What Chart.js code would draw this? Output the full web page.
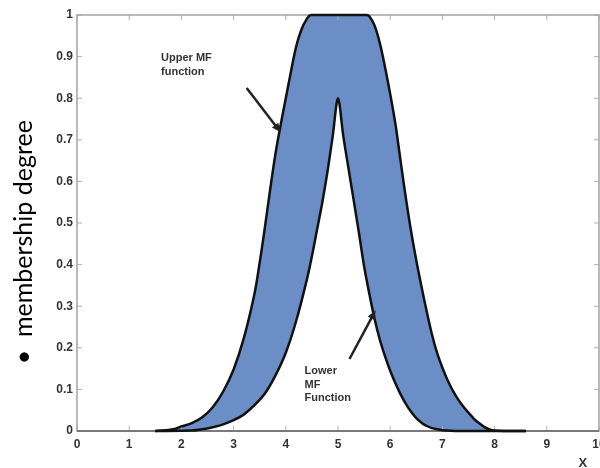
<!DOCTYPE html>
<html><head><meta charset="utf-8">
<script src="https://cdn.jsdelivr.net/npm/chart.js@4.4.1/dist/chart.umd.min.js"></script>
<style>html,body{margin:0;padding:0;background:#fff}#wrap{width:600px;height:468px}</style>
</head><body><div id="wrap"><canvas id="c" width="600" height="468"></canvas></div>
<script>
// Upper membership function (x, degree)
const upperX = [1.5, 1.85, 2.0, 2.2, 2.4, 2.6, 2.8, 3.0, 3.2, 3.4, 3.5, 3.6, 3.7, 3.8, 3.9, 4.0, 4.1, 4.2, 4.3, 4.4, 4.48,
                5.55, 5.6, 5.7, 5.8, 5.9, 6.0, 6.1, 6.2, 6.3, 6.4, 6.5, 6.6, 6.7, 6.8, 6.9, 7.0, 7.1, 7.2, 7.3, 7.4,
                7.5, 7.6, 7.7, 7.8, 7.9, 8.0, 8.2, 8.6];
const upperY = [0, 0.004, 0.011, 0.019, 0.033, 0.057, 0.095, 0.148, 0.225, 0.33, 0.405, 0.49, 0.58, 0.665, 0.735, 0.80, 0.865, 0.925, 0.965, 0.99, 1.0,
                1.0, 0.997, 0.975, 0.933, 0.875, 0.81, 0.738, 0.648, 0.56, 0.48, 0.41, 0.347, 0.287, 0.232, 0.187, 0.152, 0.122, 0.097, 0.076, 0.059,
                0.044, 0.03, 0.019, 0.01, 0.004, 0.001, 0, 0];
// Lower membership function (x, degree)
const lowerX = [1.5, 2.2, 2.4, 2.6, 2.8, 3.0, 3.2, 3.4, 3.6, 3.8, 4.0, 4.2, 4.4, 4.5, 4.6, 4.7, 4.8, 4.9, 5.0,
                5.1, 5.2, 5.3, 5.4, 5.5, 5.6, 5.7, 5.8, 5.9, 6.0, 6.1, 6.2, 6.3, 6.4, 6.5, 6.6, 6.7, 6.8, 6.9, 7.0, 7.3, 8.6];
const lowerY = [0, 0.001, 0.004, 0.009, 0.016, 0.026, 0.04, 0.062, 0.09, 0.133, 0.188, 0.265, 0.362, 0.42, 0.485, 0.55, 0.625, 0.71, 0.80,
                0.71, 0.632, 0.555, 0.477, 0.396, 0.33, 0.27, 0.22, 0.18, 0.145, 0.115, 0.088, 0.065, 0.046, 0.031, 0.02, 0.012, 0.007, 0.004, 0.002, 0, 0];
const xTicks = [0, 1, 2, 3, 4, 5, 6, 7, 8, 9, 10];
const xTickLabels = ['0', '1', '2', '3', '4', '5', '6', '7', '8', '9', '10'];
const yTicks = [0, 0.1, 0.2, 0.3, 0.4, 0.5, 0.6, 0.7, 0.8, 0.9, 1];
const yTickLabels = ['0', '0.1', '0.2', '0.3', '0.4', '0.5', '0.6', '0.7', '0.8', '0.9', '1'];

const toPts = (xs, ys) => xs.map((v, i) => ({x: v, y: ys[i]}));

const decor = {
  id: 'decor',
  beforeDatasetsDraw(chart) {
    const {ctx, chartArea: a, scales: {x, y}} = chart;
    ctx.save();
    const ln = (x1, y1, x2, y2) => { ctx.beginPath(); ctx.moveTo(x1, y1); ctx.lineTo(x2, y2); ctx.stroke(); };
    ctx.strokeStyle = '#b0b0b0'; ctx.lineWidth = 1;
    x.ticks.forEach((t, i) => { const px = x.getPixelForTick(i); ln(px, a.bottom, px, a.bottom - 5); ln(px, a.top, px, a.top + 5); });
    y.ticks.forEach((t, i) => { const py = y.getPixelForTick(i); ln(a.left, py, a.left + 5, py); ln(a.right, py, a.right - 5, py); });
    ctx.strokeStyle = '#a4a4a4'; ctx.lineWidth = 1.5;
    ctx.strokeRect(a.left, a.top, a.right - a.left, a.bottom - a.top);
    ctx.strokeStyle = '#7a7a7a'; ctx.lineWidth = 2;
    ln(a.left, a.bottom, a.right, a.bottom);
    ctx.restore();
  },
  afterDatasetsDraw(chart, args, opts) {
    const {ctx, scales: {x, y}} = chart;
    ctx.save();
    ctx.fillStyle = '#333';
    ctx.font = 'bold 11px "Liberation Sans", Arial, sans-serif';
    ctx.textBaseline = 'alphabetic';
    ctx.textAlign = 'left';
    opts.notes.forEach(n => {
      const px = x.getPixelForValue(n.x), py = y.getPixelForValue(n.y);
      n.lines.forEach((t, i) => ctx.fillText(t, px, py + i * 13.5));
    });
    ctx.strokeStyle = '#222'; ctx.fillStyle = '#222'; ctx.lineWidth = 2.5;
    opts.arrows.forEach(ar => {
      const x1 = x.getPixelForValue(ar.from[0]), y1 = y.getPixelForValue(ar.from[1]);
      const x2 = x.getPixelForValue(ar.to[0]), y2 = y.getPixelForValue(ar.to[1]);
      const ang = Math.atan2(y2 - y1, x2 - x1), L = 9, W = 4;
      ctx.beginPath(); ctx.moveTo(x1, y1); ctx.lineTo(x2 - L * 0.7 * Math.cos(ang), y2 - L * 0.7 * Math.sin(ang)); ctx.stroke();
      ctx.beginPath();
      ctx.moveTo(x2, y2);
      ctx.lineTo(x2 - L * Math.cos(ang) + W * Math.sin(ang), y2 - L * Math.sin(ang) - W * Math.cos(ang));
      ctx.lineTo(x2 - L * Math.cos(ang) - W * Math.sin(ang), y2 - L * Math.sin(ang) + W * Math.cos(ang));
      ctx.closePath(); ctx.fill();
    });
    ctx.fillStyle = '#333';
    ctx.font = 'bold 13px "Liberation Sans", Arial, sans-serif';
    ctx.textAlign = 'center';
    ctx.fillText(opts.xLabel.text, x.getPixelForValue(opts.xLabel.x), chart.height - 1);
    ctx.restore();
  }
};

new Chart(document.getElementById('c'), {
  type: 'line',
  data: {
    datasets: [
      { label: 'Upper MF', data: toPts(upperX, upperY), borderColor: '#111', borderWidth: 2.5,
        backgroundColor: '#6b8ec6', fill: '+1', pointRadius: 0, tension: 0.35, clip: 6 },
      { label: 'Lower MF', data: toPts(lowerX, lowerY), borderColor: '#111', borderWidth: 2.5,
        fill: false, pointRadius: 0, tension: 0.3, clip: 6 }
    ]
  },
  options: {
    responsive: false,
    animation: false,
    layout: { padding: { top: 15, right: 1, left: 0, bottom: 0 } },
    plugins: {
      legend: { display: false },
      tooltip: { enabled: false },
      filler: { drawTime: 'beforeDatasetsDraw' },
      decor: {
        notes: [
          { lines: ['Upper MF', 'function'], x: 1.61, y: 0.889 },
          { lines: ['Lower', 'MF', 'Function'], x: 4.36, y: 0.137 }
        ],
        arrows: [
          { from: [3.25, 0.8245], to: [3.9, 0.718] },
          { from: [5.22, 0.173], to: [5.72, 0.29] }
        ],
        xLabel: { text: 'X', x: 9.69 }
      }
    },
    scales: {
      x: {
        type: 'linear', min: 0, max: 10,
        afterBuildTicks: s => { s.ticks = xTicks.map(v => ({value: v})); },
        afterFit: s => { s.height = 37; s.paddingLeft = 0; s.paddingRight = 0; },
        grid: { display: false, drawTicks: false },
        border: { display: false },
        ticks: { padding: 6, maxRotation: 0, autoSkip: false, color: '#333',
                 font: { family: '"Liberation Sans", Arial, sans-serif', size: 12, weight: 'bold' },
                 callback: (v, i) => xTickLabels[i] }
      },
      y: {
        type: 'linear', min: 0, max: 1,
        afterBuildTicks: s => { s.ticks = yTicks.map(v => ({value: v})); },
        afterFit: s => { s.width = 77; s.paddingTop = 0; s.paddingBottom = 0; },
        grid: { display: false, drawTicks: false },
        border: { display: false },
        ticks: { padding: 4, autoSkip: false, color: '#333',
                 font: { family: '"Liberation Sans", Arial, sans-serif', size: 12, weight: 'bold' },
                 callback: (v, i) => yTickLabels[i] },
        title: { display: true, text: '•  membership degree      ', color: '#000',
                 padding: { top: 9, bottom: 0 },
                 font: { family: 'Lato, "Open Sans", sans-serif', size: 25, weight: 'normal' } }
      }
    }
  },
  plugins: [decor]
});
</script>
</body></html>
